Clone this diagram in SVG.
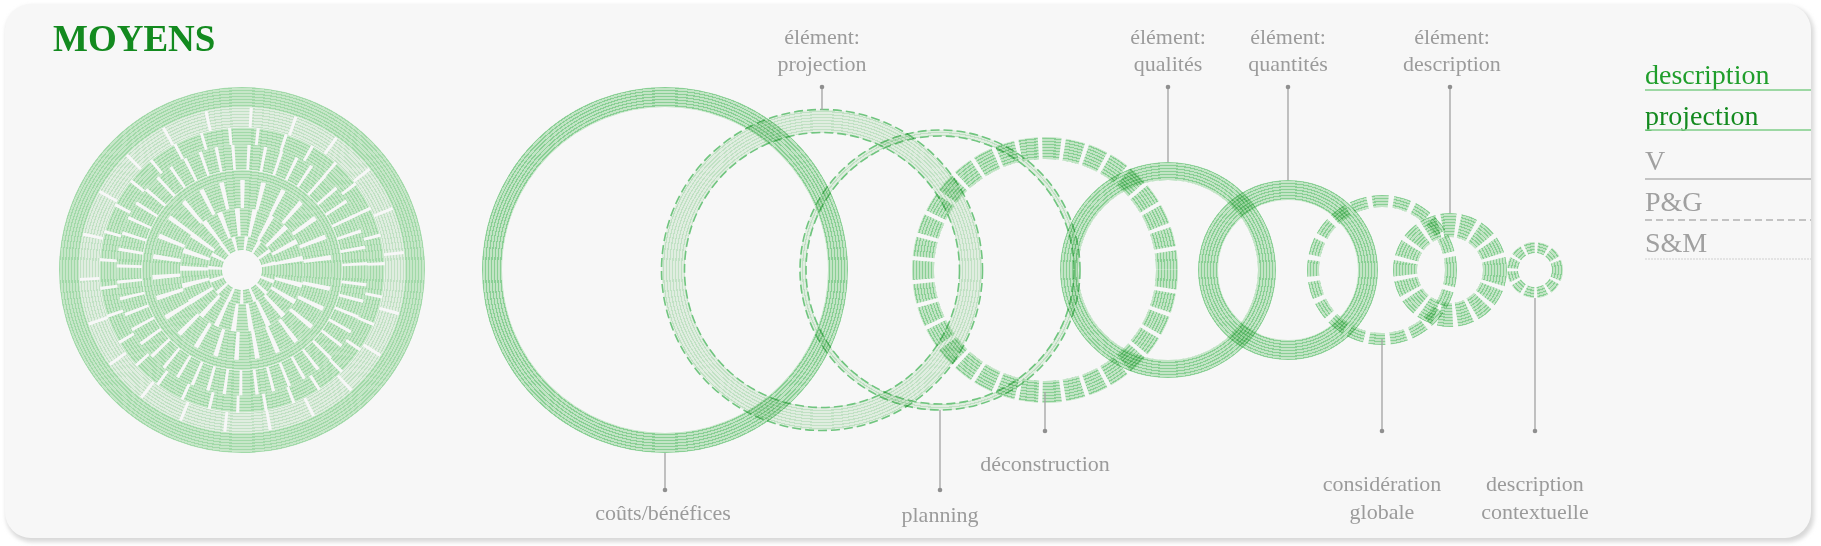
<svg xmlns="http://www.w3.org/2000/svg" width="1821" height="546" viewBox="0 0 1821 546">
<style>
.lbl{font-family:"Liberation Serif",serif;font-size:22px;fill:#9b9b9b;text-anchor:middle}
.lead{stroke:#a3a3a3;stroke-width:1.3;fill:none}
.dot{fill:#8f8f8f}
.r{fill:none;stroke:url(#st)}
.rl{fill:none;stroke:url(#stl)}
.bd{fill:none;stroke:#74cc83;stroke-width:1.6;stroke-dasharray:9 4}
.ring{mix-blend-mode:multiply}
</style>
<defs>
<radialGradient id="st" gradientUnits="userSpaceOnUse" cx="0" cy="0" r="3" spreadMethod="repeat">
<stop offset="0" stop-color="#c9eccc"/><stop offset="0.6" stop-color="#c9eccc"/><stop offset="0.6" stop-color="#8dd699"/><stop offset="1" stop-color="#8dd699"/>
</radialGradient>
<radialGradient id="stl" gradientUnits="userSpaceOnUse" cx="0" cy="0" r="3" spreadMethod="repeat">
<stop offset="0" stop-color="#e8f5e8"/><stop offset="0.6" stop-color="#e8f5e8"/><stop offset="0.6" stop-color="#c8e9cb"/><stop offset="1" stop-color="#c8e9cb"/>
</radialGradient>
<radialGradient id="stb" gradientUnits="userSpaceOnUse" cx="0" cy="0" r="3" spreadMethod="repeat">
<stop offset="0" stop-color="#cdeecf"/><stop offset="0.6" stop-color="#cdeecf"/><stop offset="0.6" stop-color="#a6e0ae"/><stop offset="1" stop-color="#a6e0ae"/>
</radialGradient>
<filter id="sh" x="-5%" y="-5%" width="110%" height="110%"><feGaussianBlur stdDeviation="2"/></filter>
</defs>
<rect width="1821" height="546" fill="#ffffff"/>
<rect x="6" y="6" width="1808" height="536" rx="26" fill="#d8d8d8" filter="url(#sh)"/>
<rect x="5" y="4" width="1806" height="534" rx="26" fill="#f7f7f7"/>
<text x="53" y="51" font-family="Liberation Serif,serif" font-weight="bold" font-size="37" fill="#138a1f">MOYENS</text>

<g id="moyens-main" class="ring" transform="translate(242,270)">
<circle r="173" fill="none" stroke="url(#stb)" stroke-width="20"/>
<circle r="153" class="rl" stroke-width="20" stroke-dasharray="40 3"/>
<circle r="134" fill="none" stroke="url(#stb)" stroke-width="17" stroke-dasharray="24 3"/>
<circle r="113" fill="none" stroke="url(#stb)" stroke-width="25" stroke-dasharray="12 3"/>
<circle r="95" fill="none" stroke="url(#stb)" stroke-width="10"/>
<circle r="76" fill="none" stroke="url(#stb)" stroke-width="28" stroke-dasharray="14 4"/>
<circle r="48" fill="none" stroke="url(#stb)" stroke-width="28" stroke-dasharray="10 4"/>
<circle r="27" fill="none" stroke="url(#stb)" stroke-width="14" stroke-dasharray="8 3"/>
<circle r="17" fill="#ffffff"/>
</g>
<g id="couts" class="ring" transform="translate(665,270)"><circle r="173" class="r" stroke-width="20"/></g>
<g id="projection" class="ring" transform="translate(822,270)">
<circle r="149" class="rl" stroke-width="23"/>
<circle r="160.5" class="bd"/><circle r="137.5" class="bd" stroke-width="1"/>
</g>
<g id="planning" class="ring" transform="translate(940,270)">
<circle r="137" class="rl" stroke-width="6"/>
<circle r="140" class="bd"/><circle r="134" class="bd"/>
</g>
<g id="deconstruction" class="ring" transform="translate(1045,270)">
<circle r="122" class="r" stroke-width="22" stroke-dasharray="18 4"/>
</g>
<g id="qualites" class="ring" transform="translate(1168,270)"><circle r="99" class="r" stroke-width="18"/></g>
<g id="quantites" class="ring" transform="translate(1288,270)"><circle r="80" class="r" stroke-width="20"/></g>
<g id="consideration" class="ring" transform="translate(1382,270)">
<circle r="69" class="r" stroke-width="12" stroke-dasharray="16 5"/>
</g>
<g id="description-el" class="ring" transform="translate(1450,270)">
<circle r="45" class="r" stroke-width="24" stroke-dasharray="13 4"/>
</g>
<g id="contextuelle" class="ring" transform="translate(1535,270)">
<circle r="22.5" class="r" stroke-width="11" stroke-dasharray="9 3"/>
</g>

<g id="connectors">
<path class="lead" d="M665 453V490M822 87V110M940 410V490M1045 392V431M1168 87V162M1288 87V180M1382 339V431M1450 87V213M1535 298V431"/>
<circle class="dot" cx="665" cy="490" r="2.3"/><circle class="dot" cx="822" cy="87" r="2.3"/><circle class="dot" cx="940" cy="490" r="2.3"/><circle class="dot" cx="1045" cy="431" r="2.3"/><circle class="dot" cx="1168" cy="87" r="2.3"/><circle class="dot" cx="1288" cy="87" r="2.3"/><circle class="dot" cx="1382" cy="431" r="2.3"/><circle class="dot" cx="1450" cy="87" r="2.3"/><circle class="dot" cx="1535" cy="431" r="2.3"/>
</g>

<g id="labels">
<text class="lbl" x="822" y="44">élément:</text><text class="lbl" x="822" y="71">projection</text>
<text class="lbl" x="1168" y="44">élément:</text><text class="lbl" x="1168" y="71">qualités</text>
<text class="lbl" x="1288" y="44">élément:</text><text class="lbl" x="1288" y="71">quantités</text>
<text class="lbl" x="1452" y="44">élément:</text><text class="lbl" x="1452" y="71">description</text>
<text class="lbl" x="663" y="520">coûts/bénéfices</text>
<text class="lbl" x="940" y="522">planning</text>
<text class="lbl" x="1045" y="471">déconstruction</text>
<text class="lbl" x="1382" y="491">considération</text><text class="lbl" x="1382" y="519">globale</text>
<text class="lbl" x="1535" y="491">description</text><text class="lbl" x="1535" y="519">contextuelle</text>
</g>

<g id="legend" font-family="Liberation Serif,serif" font-size="28">
<text x="1645" y="84" fill="#1f9e2b">description</text>
<line x1="1645" y1="90" x2="1811" y2="90" stroke="#7fce88" stroke-width="1.5"/>
<text x="1645" y="125" fill="#138a1f">projection</text>
<line x1="1645" y1="130" x2="1811" y2="130" stroke="#7fce88" stroke-width="1.5"/>
<text x="1645" y="170" fill="#a0a0a0">V</text>
<line x1="1645" y1="179" x2="1811" y2="179" stroke="#b3b3b3" stroke-width="1.5"/>
<text x="1645" y="211" fill="#a0a0a0">P&amp;G</text>
<line x1="1645" y1="220" x2="1811" y2="220" stroke="#b3b3b3" stroke-width="1.5" stroke-dasharray="7 4"/>
<text x="1645" y="252" fill="#a0a0a0">S&amp;M</text>
<line x1="1645" y1="259" x2="1811" y2="259" stroke="#cfcfcf" stroke-width="1.2" stroke-dasharray="2 1"/>
</g>
</svg>
